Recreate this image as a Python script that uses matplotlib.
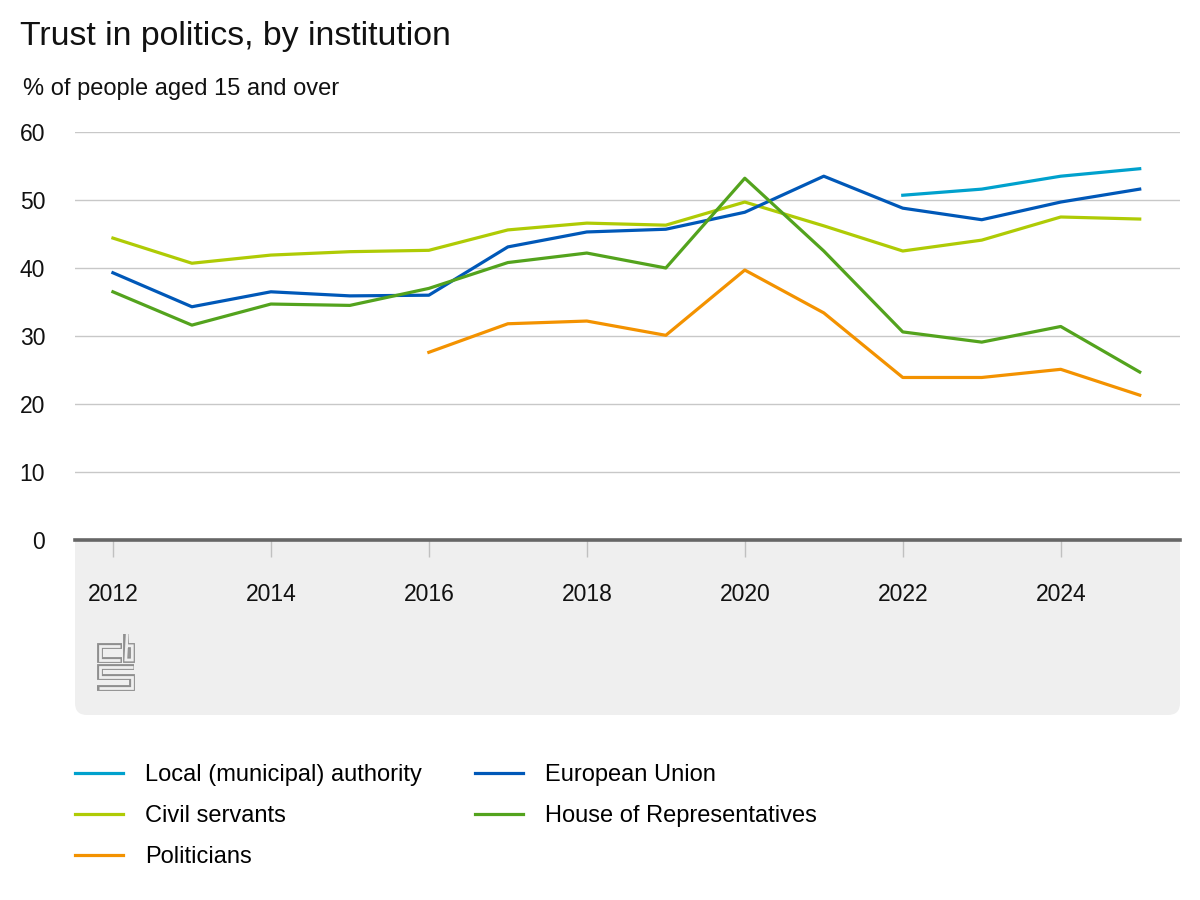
import matplotlib
matplotlib.use("Agg")
import matplotlib.pyplot as plt
from matplotlib.patches import FancyBboxPatch

plt.rcParams['font.family'] = ['Liberation Sans', 'DejaVu Sans']

# data
years = list(range(2012, 2026))
local_years = [2022, 2023, 2024, 2025]
local_authority = [50.7, 51.6, 53.5, 54.6]
european_union = [39.3, 34.3, 36.5, 35.9, 36.0, 43.1, 45.3, 45.7, 48.2, 53.5, 48.8, 47.1, 49.7, 51.6]
civil_servants = [44.4, 40.7, 41.9, 42.4, 42.6, 45.6, 46.6, 46.3, 49.7, 46.2, 42.5, 44.1, 47.5, 47.2]
house_of_reps = [36.5, 31.6, 34.7, 34.5, 37.0, 40.8, 42.2, 40.0, 53.2, 42.5, 30.6, 29.1, 31.4, 24.7]
pol_years = list(range(2016, 2026))
politicians = [27.6, 31.8, 32.2, 30.1, 39.7, 33.4, 23.9, 23.9, 25.1, 21.3]

x_ticks = [2012, 2014, 2016, 2018, 2020, 2022, 2024]
y_ticks = [0, 10, 20, 30, 40, 50, 60]

colors = {
    'local': '#00a1cd',
    'eu': '#0058b8',
    'civil': '#afcb05',
    'house': '#53a31d',
    'pol': '#f39200',
}

fig = plt.figure(figsize=(12, 9), dpi=100)

# background layer in pixel coordinates (grey panel + logo)
bg = fig.add_axes([0, 0, 1, 1], zorder=-1)
bg.set_xlim(0, 1200)
bg.set_ylim(900, 0)
bg.axis('off')
bg.patch.set_alpha(0)
panel = FancyBboxPatch((75, 500), 1105, 215, boxstyle="round,pad=0,rounding_size=12",
                       facecolor='#efefef', edgecolor='none')
bg.add_patch(panel)

# cbs logo, drawn as outlined strokes
logo_paths = [
    ([121.5, 100, 100, 121.5], [645.8, 645.8, 660, 660]),
    ([125.8, 125.8, 132.3, 132.3, 125.8], [634, 660, 660, 645.8, 645.8]),
    ([134, 100, 100, 131.5, 131.5, 97.3], [666.5, 666.5, 677, 677, 687.5, 687.5]),
]
for xs, ys in logo_paths:
    bg.plot(xs, ys, color='#8f8f8f', lw=4.2, solid_joinstyle='miter', solid_capstyle='butt')
for xs, ys in logo_paths:
    inner_x = list(xs)
    inner_x[0] += -1.4 if xs[0] > xs[1] else 1.4
    inner_x[-1] += -1.4 if xs[-1] > xs[-2] else 1.4
    bg.plot(inner_x, ys, color='#efefef', lw=2.0, solid_joinstyle='miter', solid_capstyle='butt')

ax = fig.add_axes([75 / 1200, 1 - 540 / 900, 1105 / 1200, 408 / 900])
ax.set_facecolor('white')

lw = 2.3
ax.plot(local_years, local_authority, color=colors['local'], lw=lw, label='Local (municipal) authority')
ax.plot(years, civil_servants, color=colors['civil'], lw=lw, label='Civil servants')
ax.plot(pol_years, politicians, color=colors['pol'], lw=lw, label='Politicians')
ax.plot(years, european_union, color=colors['eu'], lw=lw, label='European Union')
ax.plot(years, house_of_reps, color=colors['house'], lw=lw, label='House of Representatives')

ax.set_xlim(2011.52, 2025.51)
ax.set_ylim(0, 60)
ax.set_xticks(x_ticks)
ax.set_yticks(y_ticks)
ax.grid(axis='y', color='#c8c8c8', lw=1)
ax.set_axisbelow(True)
for side in ['top', 'right', 'left']:
    ax.spines[side].set_visible(False)
ax.spines['bottom'].set_color('#666666')
ax.spines['bottom'].set_linewidth(2.6)
ax.spines['bottom'].set_zorder(5)
ax.tick_params(axis='x', length=12, width=1, color='#c0c0c0', pad=19, labelsize=16.5, labelcolor='#111111')
ax.tick_params(axis='y', length=0, pad=21.5, labelsize=16.5, labelcolor='#111111')

fig.text(20 / 1200, 1 - 37 / 900, 'Trust in politics, by institution', fontsize=24.4,
         va='center', ha='left', color='#111111')
fig.text(23 / 1200, 1 - 89 / 900, '% of people aged 15 and over', fontsize=17,
         va='center', ha='left', color='#111111')

fig.legend(loc='upper left', bbox_to_anchor=(75 / 1200, 1 - 764 / 900), ncol=2,
           frameon=False, fontsize=17, handlelength=2.03, handletextpad=0.93,
           columnspacing=2.25, labelspacing=0.8, borderpad=0, borderaxespad=0)

fig.savefig('out.png', dpi=100)
